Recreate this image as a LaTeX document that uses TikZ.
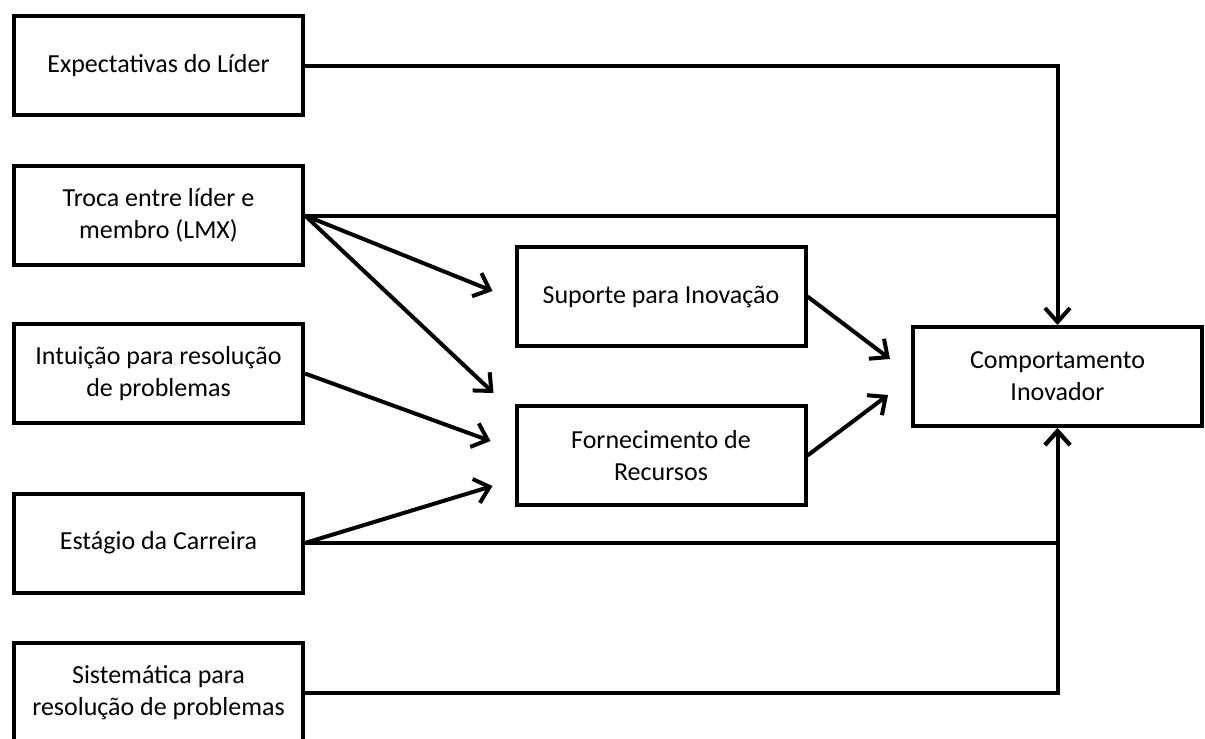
\documentclass[tikz,border=0pt]{standalone}
\usepackage{fontspec}
\setmainfont{Carlito}
\usetikzlibrary{arrows.meta,calc}
\begin{document}
\begin{tikzpicture}[x=1pt,y=-1pt,
  box/.style={draw, line width=4pt, minimum width=289pt, minimum height=99pt,
    inner sep=0pt, align=center, font=\fontsize{26}{32}\selectfont},
  wire/.style={line width=4pt},
  link/.style={line width=4pt,
    -{Straight Barb[length=14pt,width=25pt,line width=4pt]}}]
\useasboundingbox (0,0) rectangle (1205,739);

% predictors
\node[box] (exp)   at (158.5,65.5)  {Expectativas do Líder};
\node[box] (troca) at (158.5,215.5) {Troca entre líder e\\membro (LMX)};
\node[box] (intu)  at (158.5,373.5) {Intuição para resolução\\de problemas};
\node[box] (est)   at (158.5,543)   {Estágio da Carreira};
\node[box] (sist)  at (158.5,692.5) {Sistemática para\\resolução de problemas};

% mediators
\node[box] (sup)  at (661,296.5) {Suporte para Inovação};
\node[box] (forn) at (661,455.5) {Fornecimento de\\Recursos};

% outcome
\node[box] (comp) at (1057.5,376.5) {Comportamento\\Inovador};

% direct paths along the vertical bus
\draw[link] (exp.east) -| (comp.north);
\draw[wire] (troca.east) -- (troca.east -| comp.north);
\draw[link] (est.east) -| (comp.south);
\draw[link] (sist.east) -| (comp.south);

% paths through the mediators
\draw[link] (troca.east) -- ($(sup.west)+(-22,-5.5)$);
\draw[link] (troca.east) -- ($(forn.north west)+(-21,-11)$);
\draw[link] (intu.east) -- ($(forn.west)+(-24,-14.5)$);
\draw[link] (est.east) -- ($(forn.west)+(-22,30.5)$);
\draw[link] (sup.east) -- ($(comp.west)+(-21,-17.5)$);
\draw[link] (forn.east) -- ($(comp.west)+(-23,18.5)$);
\end{tikzpicture}
\end{document}
